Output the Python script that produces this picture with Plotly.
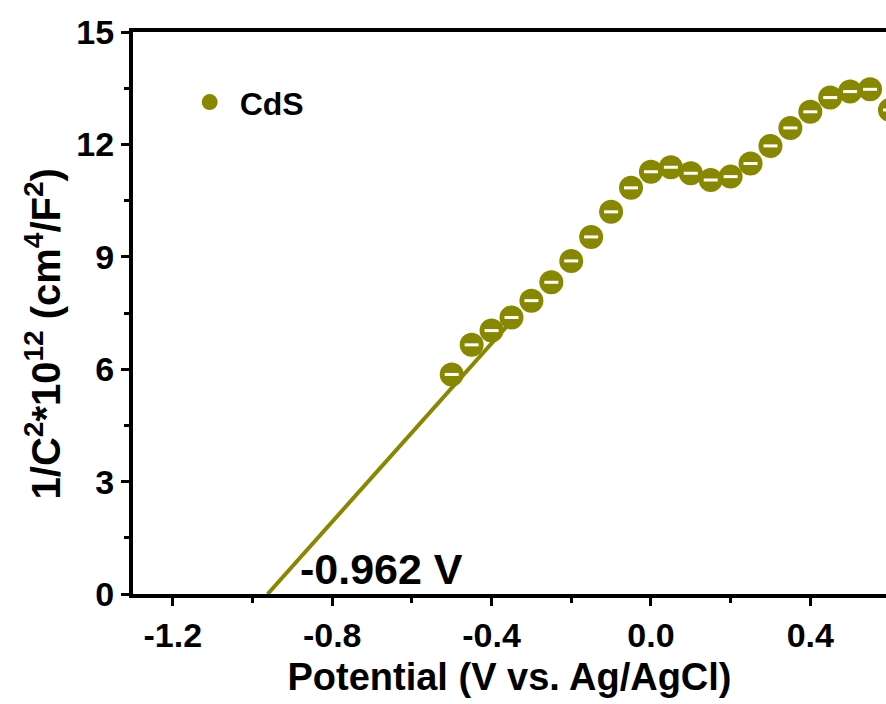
import plotly.graph_objects as go

# Mott-Schottky data for CdS
potential = [-0.50, -0.45, -0.40, -0.35, -0.30, -0.25, -0.20, -0.15, -0.10, -0.05,
             0.00, 0.05, 0.10, 0.15, 0.20, 0.25, 0.30, 0.35, 0.40, 0.45,
             0.50, 0.55, 0.60]
inv_c2 = [5.86, 6.65, 7.03, 7.38, 7.83, 8.32, 8.89, 9.53, 10.20, 10.84,
          11.27, 11.39, 11.23, 11.05, 11.14, 11.49, 11.96, 12.44, 12.87, 13.25,
          13.41, 13.47, 12.92]

# Linear fit of the depletion region, extrapolated to the flat-band potential
flatband = -0.962
fit_slope = 11.9
fit_x = [flatband, -0.35]
fit_y = [fit_slope * (x - flatband) for x in fit_x]

x_ticks = [-1.2, -0.8, -0.4, 0.0, 0.4]
y_ticks = [0, 3, 6, 9, 12, 15]

OLIVE = "#878700"
FONT = "Liberation Sans, Arial, sans-serif"

fig = go.Figure()

fig.add_trace(go.Scatter(
    x=fit_x, y=fit_y, mode="lines",
    line=dict(color=OLIVE, width=4),
    showlegend=False, hoverinfo="skip",
))

fig.add_trace(go.Scatter(
    x=potential, y=inv_c2, mode="markers", name="CdS",
    marker=dict(color=OLIVE, size=24, symbol="circle", line=dict(width=0)),
))

# white highlight on each sphere
fig.add_trace(go.Scatter(
    x=potential, y=inv_c2, mode="markers",
    marker=dict(symbol="line-ew", size=10, color="white",
                line=dict(color="white", width=3)),
    showlegend=False, hoverinfo="skip",
))

fig.add_annotation(
    x=-0.885, y=0.67, xref="x", yref="y",
    text="-0.962 V", showarrow=False,
    xanchor="left", yanchor="middle",
    font=dict(family=FONT, size=43, color="black", weight="bold"),
)

# vertical axis title
fig.add_annotation(
    x=-0.12, y=0.463, xref="paper", yref="paper",
    text="1/C<sup>2</sup>*10<sup>12</sup> (cm<sup>4</sup>/F<sup>2</sup>)",
    textangle=-90, showarrow=False,
    xanchor="center", yanchor="middle",
    font=dict(family=FONT, size=40, color="black", weight="bold"),
)

axis_common = dict(
    showgrid=False, zeroline=False,
    showline=True, linecolor="black", linewidth=4,
    ticks="outside", ticklen=8, tickwidth=3, tickcolor="black",
    tickfont=dict(family=FONT, size=34, color="black", weight="bold"),
)

fig.update_xaxes(
    **axis_common,
    range=[-1.3, 0.59],
    tickvals=x_ticks, ticktext=[f"{v:.1f}" for v in x_ticks],
    minor=dict(dtick=0.2, tick0=0, ticks="outside", ticklen=5, tickwidth=3,
               tickcolor="black"),
    mirror=True,
    title=dict(text="Potential (V vs. Ag/AgCl)", standoff=12,
               font=dict(family=FONT, size=38, color="black", weight="bold")),
)

fig.update_yaxes(
    **axis_common,
    range=[0, 15],
    tickvals=y_ticks,
    minor=dict(dtick=1.5, tick0=0, ticks="outside", ticklen=5, tickwidth=3,
               tickcolor="black"),
)

fig.update_layout(
    width=886, height=704,
    margin=dict(l=133, r=0, t=32, b=110),
    plot_bgcolor="white", paper_bgcolor="white",
    legend=dict(x=0.062, y=0.875, xanchor="left", yanchor="middle",
                bgcolor="rgba(0,0,0,0)", itemsizing="trace", itemwidth=50,
                font=dict(family=FONT, size=32, color="black", weight="bold")),
)

fig.write_html("out.html")
